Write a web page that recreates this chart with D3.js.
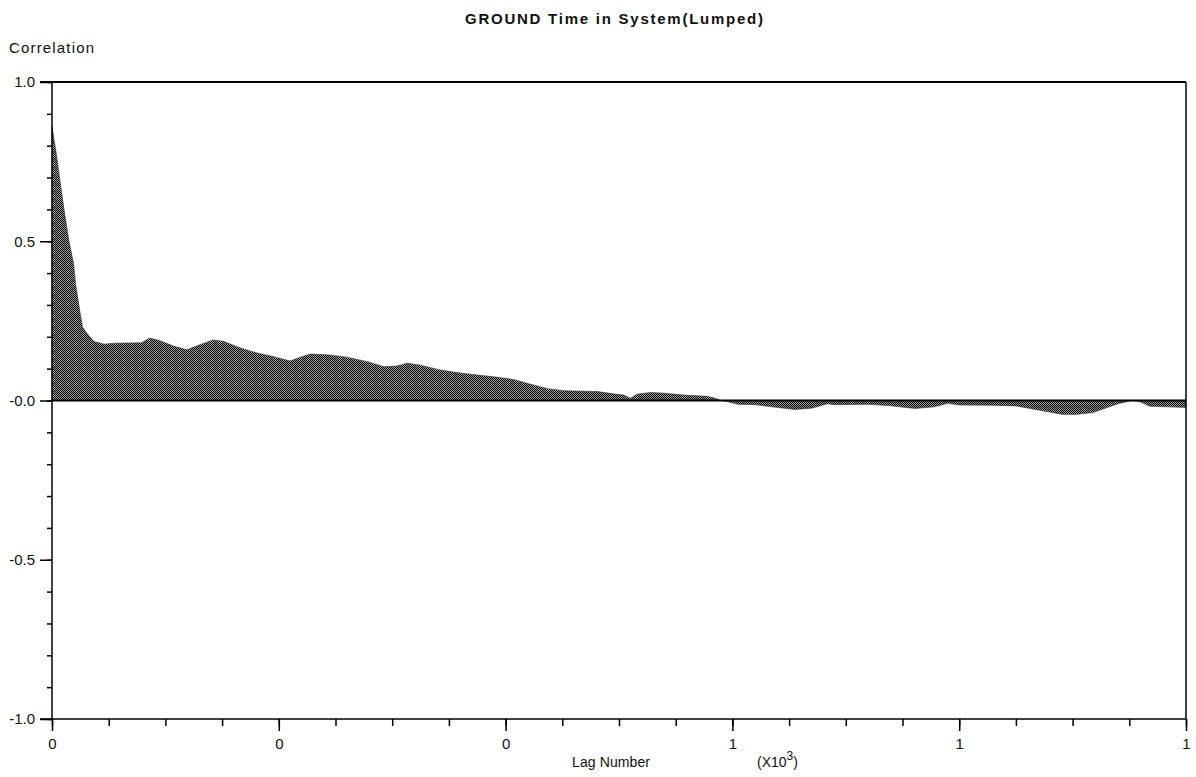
<!DOCTYPE html>
<html>
<head>
<meta charset="utf-8">
<script src="https://cdn.jsdelivr.net/npm/d3@7"></script>
<style>
  body { margin: 0; background: #fff; }
  text { font-family: "Liberation Sans", Arial, sans-serif; fill: #111; }
</style>
</head>
<body>
<svg></svg>
<script>
//data
const lags = [0,4,7,11,15,19,21,25,27,31,37,46,55,79,86,95,107,119,128,142,151,166,180,195,210,219,228,245,260,278,293,304,313,325,342,363,393,407,422,437,451,481,495,504,510,516,528,540,557,578,584,590,
  595,605,620,640,655,670,684,690,720,738,761,778,790,800,830,850,870,890,902,918,940,953,960,968,985,1000];
const acf = [0.86,0.77,0.69,0.59,0.50,0.43,0.36,0.27,0.23,0.21,0.185,0.177,0.18,0.181,0.196,0.188,0.171,0.159,0.172,0.19,0.186,0.165,0.15,0.138,0.124,0.136,0.146,0.143,0.136,0.122,0.106,0.108,0.117,0.111,0.096,0.085,0.073,0.066,0.051,0.037,0.031,0.028,0.021,0.017,0.007,0.02,0.025,0.023,0.017,0.013,0.008,0.0,
  -0.003,-0.012,-0.013,-0.022,-0.028,-0.024,-0.01,-0.013,-0.012,-0.016,-0.025,-0.02,-0.009,-0.014,-0.015,-0.017,-0.03,-0.043,-0.044,-0.038,-0.01,0.0,-0.005,-0.018,-0.02,-0.022];
const yMajor = [-1, -0.5, 0, 0.5, 1];
const yMinor = d3.range(-10, 11).map(d => d / 10);
const xMajor = [0, 200, 400, 600, 800, 1000];
const xMinor = d3.range(0, 1001, 50);

//setting
const Width = 1196, Height = 777;
const pLeft = 52, pRight = 1186, pTop = 82, pBottom = 719;
const svg = d3.select("svg").attr("width", Width).attr("height", Height);

const x = d3.scaleLinear().domain([0, 1000]).range([pLeft, pRight]);
const y = d3.scaleLinear().domain([-1, 1]).range([pBottom, pTop]);

// halftone fill
const pat = svg.append("defs").append("pattern")
  .attr("id", "dots").attr("width", 2).attr("height", 2)
  .attr("patternUnits", "userSpaceOnUse");
pat.append("rect").attr("width", 2).attr("height", 2).attr("fill", "#9a9a9a");
pat.append("rect").attr("width", 1).attr("height", 1).attr("fill", "#000");
pat.append("rect").attr("x", 1).attr("y", 1).attr("width", 1).attr("height", 1).attr("fill", "#000");

const pts = lags.map((l, i) => [l, acf[i]]);
const area = d3.area().x(d => x(d[0])).y0(y(0)).y1(d => y(d[1]));
svg.append("path").datum(pts).attr("d", area).attr("fill", "url(#dots)")
  .attr("stroke", "#333").attr("stroke-width", 0.6);

// zero line
svg.append("line")
  .attr("x1", pLeft).attr("x2", pRight).attr("y1", y(0)).attr("y2", y(0))
  .attr("stroke", "#000").attr("stroke-width", 2.2);

// frame
svg.append("line").attr("x1", pLeft - 12).attr("x2", pRight).attr("y1", pTop).attr("y2", pTop)
  .attr("stroke", "#000").attr("stroke-width", 2);
svg.append("line").attr("x1", pRight).attr("x2", pRight).attr("y1", pTop).attr("y2", pBottom)
  .attr("stroke", "#000").attr("stroke-width", 1.5);
svg.append("line").attr("x1", pLeft).attr("x2", pLeft).attr("y1", pTop).attr("y2", pBottom)
  .attr("stroke", "#000").attr("stroke-width", 1.5);
svg.append("line").attr("x1", pLeft - 12).attr("x2", pRight).attr("y1", pBottom).attr("y2", pBottom)
  .attr("stroke", "#000").attr("stroke-width", 1.5);

// y axis
const yMin = svg.append("g").attr("transform", `translate(${pLeft},0)`)
  .call(d3.axisLeft(y).tickValues(yMinor).tickSize(5).tickFormat(""));
const yMaj = svg.append("g").attr("transform", `translate(${pLeft},0)`)
  .call(d3.axisLeft(y).tickValues(yMajor).tickSize(12).tickPadding(5)
    .tickFormat(d => d === 0 ? "-0.0" : d.toFixed(1)));

// x axis
const xMin = svg.append("g").attr("transform", `translate(0,${pBottom})`)
  .call(d3.axisBottom(x).tickValues(xMinor).tickSize(7).tickFormat(""));
const xMaj = svg.append("g").attr("transform", `translate(0,${pBottom})`)
  .call(d3.axisBottom(x).tickValues(xMajor).tickSize(12).tickPadding(7)
    .tickFormat(d => Math.round(d / 1000)));

[yMin, yMaj, xMin, xMaj].forEach(g => {
  g.select(".domain").remove();
  g.selectAll("line").attr("stroke", "#000").attr("stroke-width", 1.5);
  g.selectAll("text").style("font-size", "15px").style("font-family", "Liberation Sans, Arial, sans-serif").attr("fill", "#111");
});

// titles
svg.append("text").attr("x", 614).attr("y", 24).attr("text-anchor", "middle")
  .style("font-size", "15px").style("font-weight", "bold")
  .attr("textLength", 298).attr("lengthAdjust", "spacing")
  .text("GROUND Time in System(Lumped)");
svg.append("text").attr("x", 9).attr("y", 53).style("font-size", "15px")
  .attr("textLength", 85).attr("lengthAdjust", "spacing").text("Correlation");
svg.append("text").attr("x", 572).attr("y", 767).style("font-size", "14px")
  .attr("textLength", 78).attr("lengthAdjust", "spacing").text("Lag Number");
const xl = svg.append("text").attr("x", 757).attr("y", 767).style("font-size", "14px");
xl.append("tspan").text("(X10");
xl.append("tspan").attr("dy", -7).style("font-size", "12px").text("3");
xl.append("tspan").attr("dy", 7).text(")");
</script>
</body>
</html>
